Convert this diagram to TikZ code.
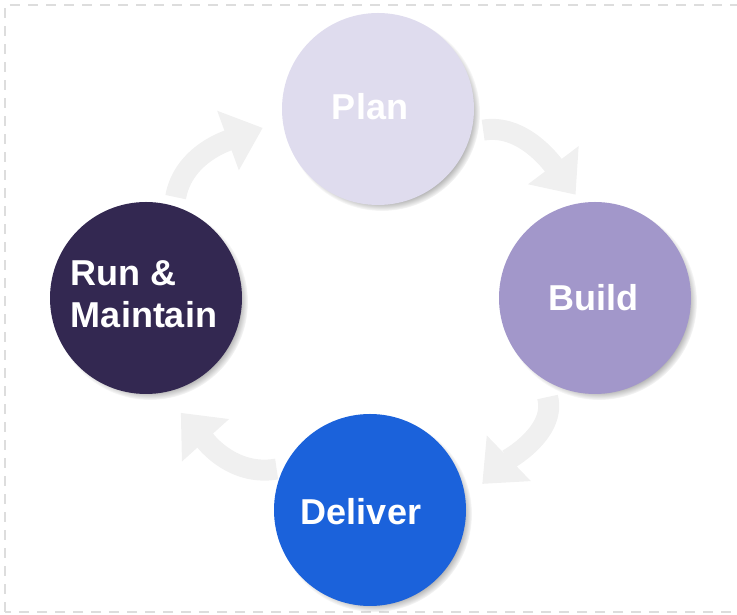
\documentclass[tikz,border=0pt]{standalone}
\usepackage{fontspec}
\setmainfont{Liberation Sans}
\usetikzlibrary{arrows.meta,shadows}

\definecolor{plancol}{HTML}{DFDCEE}
\definecolor{buildcol}{HTML}{A297CA}
\definecolor{delivercol}{HTML}{1B62DB}
\definecolor{runcol}{HTML}{332851}
\definecolor{arrowcol}{HTML}{F0F0F0}
\definecolor{framecol}{HTML}{DDDDDD}

\tikzset{
  phase/.style={circle, minimum size=192pt, inner sep=0pt,
    circular drop shadow={shadow xshift=4pt, shadow yshift=-4pt, shadow scale=1.02}},
  phasetext/.style={text=white, font=\bfseries\fontsize{36}{42}\selectfont, align=left},
  cyclearrow/.style={arrowcol, line width=21pt, -{Triangle[length=37pt,width=61pt]}}
}

\begin{document}
\begin{tikzpicture}[x=1pt, y=1pt]
\useasboundingbox (0,0) rectangle (737,615);
\draw[framecol, line width=2.5pt, dash pattern=on 10pt off 8pt]
    (5,3) rectangle (760,610);

\node[phase, fill=plancol] (plan) at (378,506) {};        % Plan
\node[phase, fill=buildcol] (build) at (595,317) {};      % Build
\node[phase, fill=delivercol] (deliver) at (370,105) {};  % Deliver
\node[phase, fill=runcol] (run) at (146,317) {};          % Run & Maintain

\node[phasetext] (plantext) at ([xshift=-8pt, yshift=2pt]plan.center) {Plan};
\node[phasetext] (buildtext) at ([xshift=-2pt]build.center) {Build};
\node[phasetext] (delivertext) at ([xshift=-9pt, yshift=-2pt]deliver.center) {Deliver};
\node[phasetext] (runtext) at ([xshift=-2pt, yshift=4pt]run.center) {Run \&\\Maintain};

\draw[cyclearrow, shorten <=9pt, shorten >=21pt]
    (run.73) to[out=80, in=200] (plan.187);        % run -> plan
\draw[cyclearrow, shorten <=12pt, shorten >=10pt]
    (plan.-14) to[out=10, in=127] (build.98);      % plan -> build
\draw[cyclearrow, shorten <=19pt, shorten >=23pt]
    (build.237) to[out=-75, in=44] (deliver.6);    % build -> deliver
\draw[cyclearrow, shorten <=7pt, shorten >=27pt]
    (deliver.154) to[out=190, in=-48] (run.-80);   % deliver -> run

\end{tikzpicture}
\end{document}
